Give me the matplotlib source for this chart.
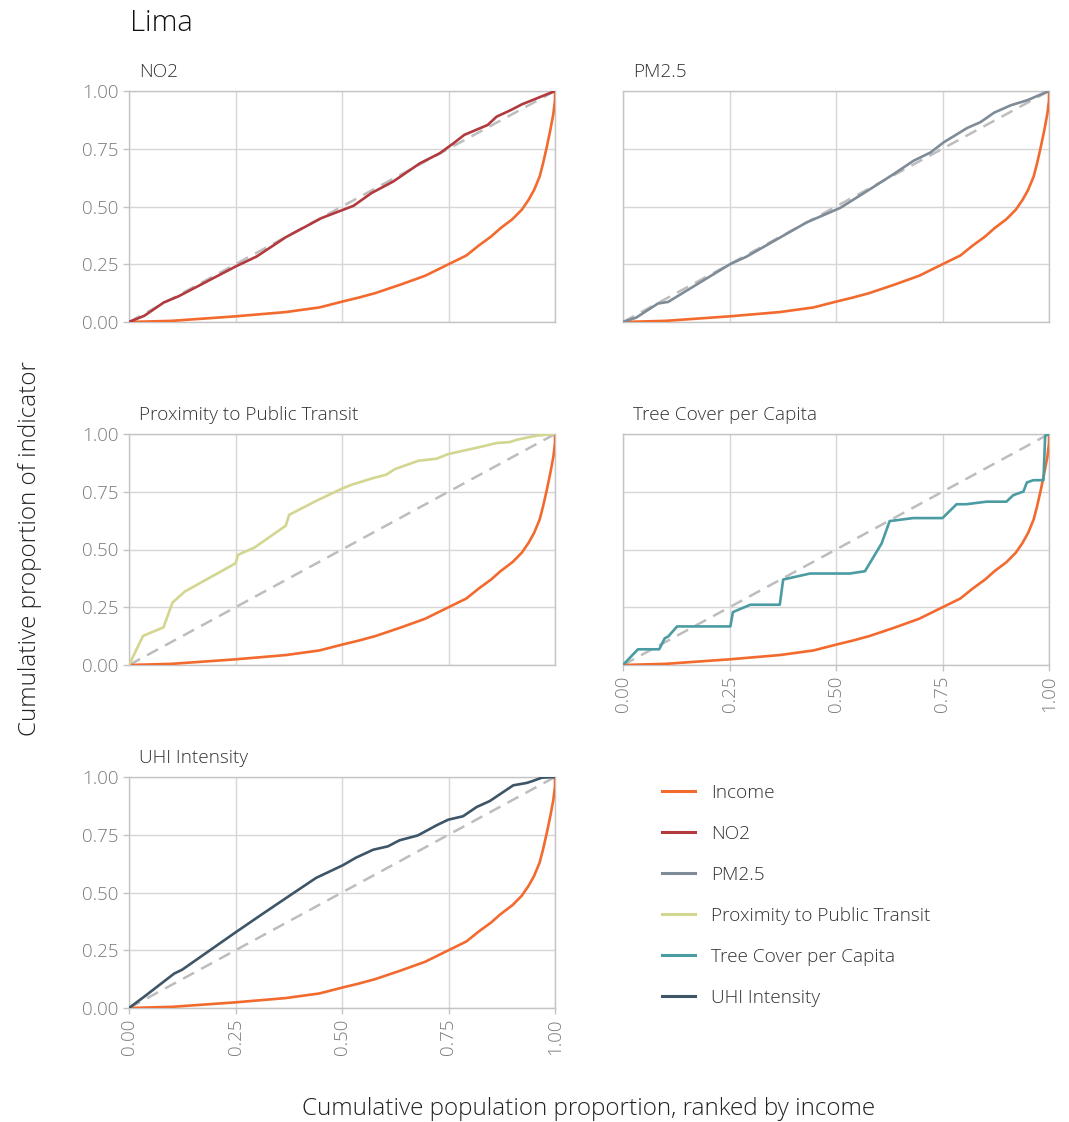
import numpy as np
import matplotlib
matplotlib.use("Agg")
import matplotlib.pyplot as plt
from matplotlib.lines import Line2D

plt.rcParams["font.family"] = ["Open Sans", "DejaVu Sans"]
plt.rcParams["font.weight"] = "light"

# ---- data (cumulative population share, cumulative indicator share)
income_x = [0, 0.10, 0.25, 0.368, 0.447, 0.502, 0.54, 0.578, 0.636, 0.695, 0.75, 0.792,
            0.821, 0.85, 0.872, 0.90, 0.922, 0.938, 0.951, 0.964, 0.972, 0.981, 0.989,
            0.996, 1.0, 1.0]
income_y = [0, 0.005, 0.0245, 0.043, 0.063, 0.089, 0.106, 0.125, 0.161, 0.20, 0.25, 0.288,
            0.331, 0.37, 0.406, 0.445, 0.486, 0.529, 0.572, 0.63, 0.687, 0.76, 0.831,
            0.90, 0.96, 1.0]

no2_x = [0, 0.036, 0.082, 0.116, 0.25, 0.30, 0.368, 0.452, 0.527, 0.569, 0.62, 0.683,
         0.729, 0.762, 0.787, 0.842, 0.863, 0.897, 0.922, 1.0]
no2_y = [0, 0.027, 0.085, 0.111, 0.24, 0.284, 0.367, 0.45, 0.503, 0.558, 0.608, 0.687,
         0.73, 0.774, 0.81, 0.853, 0.889, 0.918, 0.942, 1.0]

pm25_x = [0, 0.031, 0.082, 0.106, 0.251, 0.29, 0.431, 0.51, 0.573, 0.635, 0.682, 0.722,
          0.753, 0.808, 0.839, 0.871, 0.91, 0.949, 1.0]
pm25_y = [0, 0.019, 0.080, 0.087, 0.25, 0.283, 0.431, 0.494, 0.567, 0.64, 0.698, 0.734,
          0.778, 0.84, 0.865, 0.906, 0.938, 0.96, 1.0]

transit_x = [0, 0.033, 0.081, 0.102, 0.131, 0.25, 0.256, 0.295, 0.368, 0.376, 0.44, 0.503,
             0.522, 0.573, 0.604, 0.624, 0.679, 0.722, 0.749, 0.832, 0.863, 0.894, 0.91,
             0.957, 1.0]
transit_y = [0, 0.126, 0.163, 0.27, 0.318, 0.44, 0.477, 0.509, 0.603, 0.65, 0.711, 0.766,
             0.78, 0.809, 0.824, 0.848, 0.884, 0.893, 0.913, 0.947, 0.961, 0.965, 0.975,
             0.993, 1.0]

tree_x = [0, 0.035, 0.085, 0.098, 0.106, 0.127, 0.252, 0.258, 0.299, 0.368, 0.376, 0.439,
          0.532, 0.568, 0.607, 0.626, 0.681, 0.75, 0.783, 0.806, 0.853, 0.90, 0.916, 0.94,
          0.948, 0.963, 0.987, 0.991, 1.0]
tree_y = [0, 0.068, 0.068, 0.116, 0.123, 0.167, 0.167, 0.229, 0.261, 0.261, 0.37, 0.396,
          0.396, 0.406, 0.526, 0.623, 0.636, 0.636, 0.696, 0.696, 0.707, 0.707, 0.735, 0.751,
          0.79, 0.80, 0.80, 0.993, 1.0]

uhi_x = [0, 0.035, 0.106, 0.125, 0.249, 0.314, 0.384, 0.439, 0.502, 0.533, 0.573, 0.608,
         0.635, 0.678, 0.722, 0.749, 0.784, 0.816, 0.847, 0.902, 0.914, 0.933, 0.945,
         0.969, 1.0]
uhi_y = [0, 0.048, 0.149, 0.166, 0.326, 0.408, 0.495, 0.563, 0.618, 0.651, 0.685, 0.70,
         0.726, 0.747, 0.791, 0.815, 0.83, 0.87, 0.896, 0.964, 0.968, 0.974, 0.981,
         0.997, 1.0]

indicators = ["NO2", "PM2.5", "Proximity to Public Transit", "Tree Cover per Capita", "UHI Intensity"]
series = {
    "NO2": (no2_x, no2_y),
    "PM2.5": (pm25_x, pm25_y),
    "Proximity to Public Transit": (transit_x, transit_y),
    "Tree Cover per Capita": (tree_x, tree_y),
    "UHI Intensity": (uhi_x, uhi_y),
}
colors = {
    "Income": "#F26A2E",
    "NO2": "#B23A3E",
    "PM2.5": "#7F8B97",
    "Proximity to Public Transit": "#D3D690",
    "Tree Cover per Capita": "#4B9CA2",
    "UHI Intensity": "#3D5567",
}
ticks = [0, 0.25, 0.5, 0.75, 1.0]
tick_labels = ["0.00", "0.25", "0.50", "0.75", "1.00"]

# ---- layout (figure fractions)
W, H = 1069, 1122
fig = plt.figure(figsize=(W / 100, H / 100), dpi=100)

col_left = [129, 623]
row_top = [91, 434, 777]
pw, ph = 426, 231
grid_pos = [(0, 0), (0, 1), (1, 0), (1, 1), (2, 0)]
x_labelled = {"Tree Cover per Capita", "UHI Intensity"}

GRAY_TXT = "#7a7a7a"
EDGE = "#c4c4c4"
GRID = "#d6d6d6"

for name, (r, c) in zip(indicators, grid_pos):
    left = col_left[c] / W
    bottom = 1 - (row_top[r] + ph) / H
    ax = fig.add_axes([left, bottom, pw / W, ph / H])
    ax.set_xlim(0, 1)
    ax.set_ylim(0, 1)
    ax.set_xticks(ticks)
    ax.set_yticks(ticks)
    ax.grid(True, color=GRID, lw=1.0)
    ax.set_axisbelow(True)
    for sp in ax.spines.values():
        sp.set_color(EDGE)
        sp.set_linewidth(1.0)

    ax.plot([0, 1], [0, 1], ls=(0, (5, 3.2)), color="#bdbdbd", lw=1.8, zorder=2)
    ax.plot(income_x, income_y, color=colors["Income"], lw=1.9, zorder=3)
    sx, sy = series[name]
    ax.plot(sx, sy, color=colors[name], lw=1.9, zorder=4)

    ax.tick_params(colors=EDGE, labelcolor=GRAY_TXT, labelsize=13.5, length=4, width=1)
    if c == 0:
        ax.set_yticklabels(tick_labels)
    else:
        ax.tick_params(axis="y", left=False, labelleft=False)
    if name in x_labelled:
        ax.set_xticklabels(tick_labels, rotation=90)
    else:
        ax.tick_params(axis="x", bottom=False, labelbottom=False)

    ax.text(0.023, 1.045, name, transform=ax.transAxes, fontsize=13.7,
            color="#333333", ha="left", va="bottom")

# legend in the empty sixth slot
handles = [Line2D([0], [0], color=colors[k], lw=2.2) for k in ["Income"] + indicators]
fig.legend(handles, ["Income"] + indicators, loc="upper left",
           bbox_to_anchor=(662 / W, 1 - 784 / H), frameon=False, fontsize=13.7,
           handlelength=1.75, handletextpad=0.85, labelspacing=1.21, borderpad=0,
           borderaxespad=0, labelcolor="#333333")

fig.text(130 / W, 1 - 31 / H, "Lima", fontsize=21, color="#111111", ha="left", va="baseline")
fig.text(30 / W, 1 - 548 / H, "Cumulative proportion of indicator", fontsize=17.5,
         color="#222222", rotation=90, ha="center", va="center")
fig.text(589 / W, 1 - 1109 / H, "Cumulative population proportion, ranked by income",
         fontsize=17.5, color="#222222", ha="center", va="center")

fig.savefig("out.png", dpi=100)
